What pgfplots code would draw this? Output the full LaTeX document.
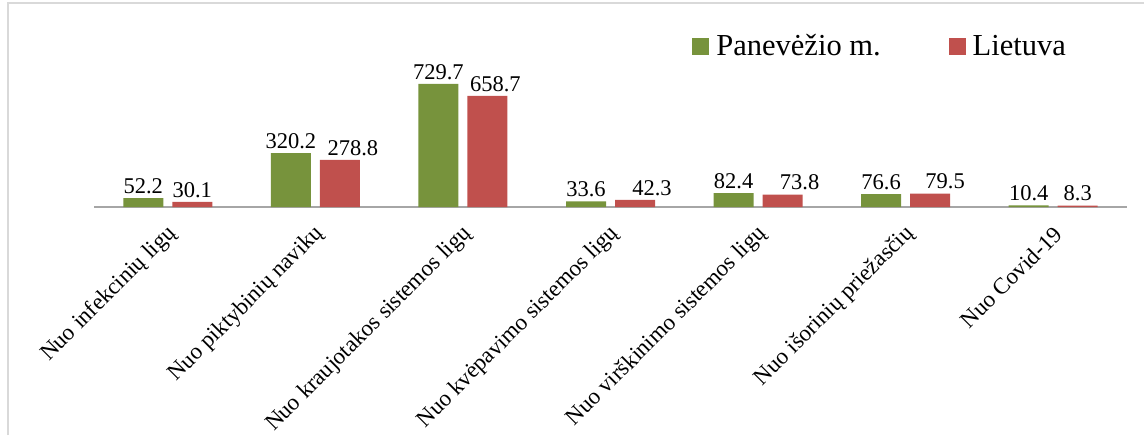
\documentclass[border=0pt]{standalone}
\usepackage{pgfplots}
\pgfplotsset{compat=1.18}
\usepackage{pgfplotstable}
\usepackage{fontspec}
\setmainfont{Liberation Serif}
\definecolor{cgreen}{HTML}{77933C}
\definecolor{cred}{HTML}{C0504D}
\definecolor{cframe}{HTML}{D9D9D9}
\definecolor{caxis}{HTML}{A6A6A6}
\pgfplotstableread{
x g r dx
0 52.2 30.1 0
1 320.2 278.8 6.5
2 729.7 658.7 4
3 33.6 42.3 8.5
4 82.4 73.8 8.5
5 76.6 79.5 7.5
6 10.4 8.3 0
}\datatab
\begin{document}
\begin{tikzpicture}
\useasboundingbox (0,0) rectangle (572pt,217.5pt);
\draw[cframe, line width=0.8pt] (4pt,0) -- (4pt,216pt) -- (572pt,216pt);
\begin{axis}[
  at={(47pt,114pt)}, anchor=south west,
  scale only axis, width=516.5pt, height=67.45pt,
  xmin=-0.5, xmax=6.5, ymin=0, ymax=800,
  axis x line*=bottom, axis y line=none,
  x axis line style={caxis, line width=1pt},
  xtick={0,...,6}, major tick length=0pt,
  xticklabels={Nuo infekcinių ligų, Nuo piktybinių navikų, Nuo kraujotakos sistemos ligų, Nuo kvėpavimo sistemos ligų, Nuo virškinimo sistemos ligų, Nuo išorinių priežasčių, Nuo Covid-19},
  xticklabel style={rotate=45, anchor=east, font=\fontsize{11.5pt}{13pt}\selectfont, inner sep=1pt, xshift=-5.5pt, yshift=-10pt},
  ybar=4.5pt, bar width=20pt,
  /pgf/number format/assume math mode=true,
  nodes near coords={\pgfmathprintnumber[fixed,fixed zerofill,precision=1]{\pgfplotspointmeta}},
  every node near coord/.append style={font=\fontsize{11.25pt}{13pt}\selectfont, inner sep=2pt},
  legend columns=2,
  legend image code/.code={\fill[#1] (0pt,-4.25pt) rectangle (8.5pt,4.25pt); \path (10pt,0pt);},
  legend style={draw=none, fill=none, at={(0.5789,1.19)}, anchor=west, inner sep=0pt,
    font=\fontsize{15.25pt}{17pt}\selectfont,
    /tikz/every even column/.append style={column sep=32pt},
    nodes={inner sep=2pt}},
]
\addplot[fill=cgreen, draw=none] table[x=x, y=g] {\datatab};
\addplot[fill=cred, draw=none,
  visualization depends on={\thisrow{dx} \as \dx},
  every node near coord/.append style={xshift=\dx pt}] table[x=x, y=r] {\datatab};
\legend{Panevėžio m., Lietuva}
\end{axis}
\end{tikzpicture}
\end{document}
